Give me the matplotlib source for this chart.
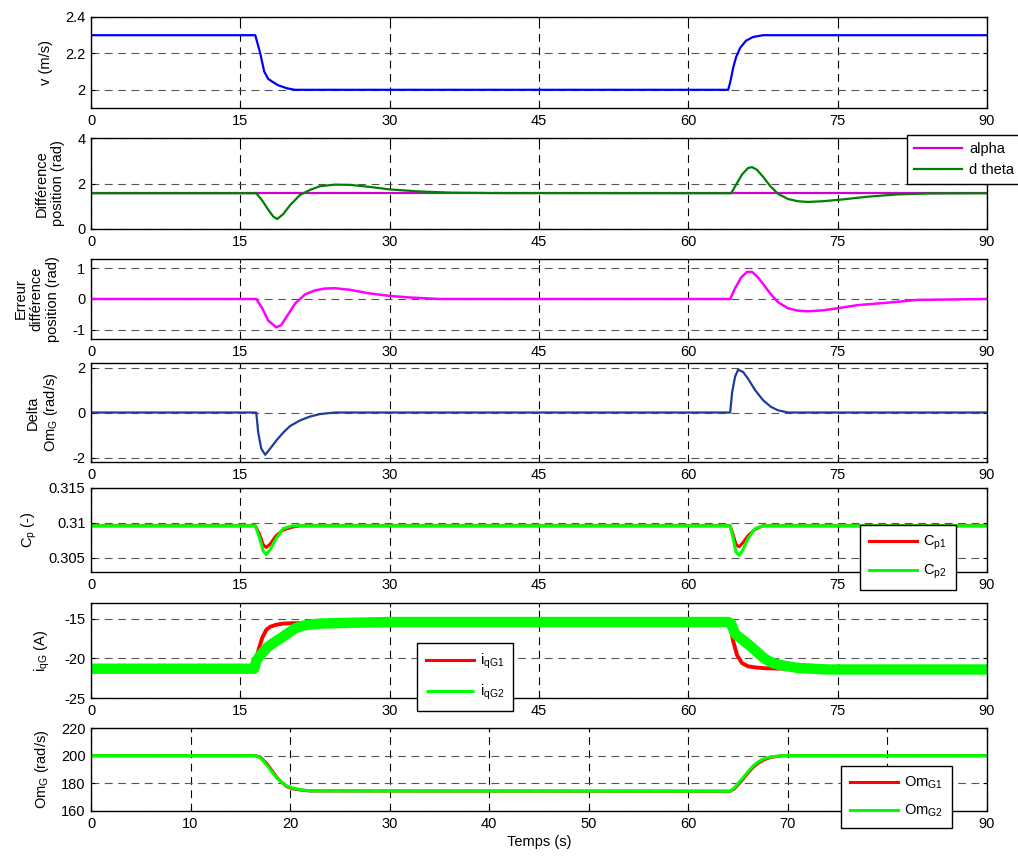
import numpy as np
import matplotlib
matplotlib.use("Agg")
import matplotlib.pyplot as plt

plt.rcParams['font.family'] = ['Liberation Sans', 'DejaVu Sans']
plt.rcParams['font.size'] = 10.5
plt.rcParams['mathtext.default'] = 'regular'
plt.rcParams['axes.unicode_minus'] = False

# vitesse du vent
t_v = [0, 16.5, 16.8, 17.0, 17.4, 17.8, 18.2, 18.8, 19.7, 20.5, 64.0, 64.2, 64.5, 64.8, 65.2, 65.8, 66.5, 67.5, 90]
v = [2.3, 2.3, 2.24, 2.2, 2.1, 2.06, 2.045, 2.025, 2.008, 2.0, 2.0, 2.04, 2.12, 2.18, 2.23, 2.27, 2.29, 2.3, 2.3]

# difference de position
t_alpha = [0, 90]
alpha = [1.571, 1.571]
t_dth = [0, 16.6, 17.2, 17.8, 18.3, 18.7, 19.3, 20.0, 21.0, 22.0, 23.0, 24.5, 26.0, 28.0, 30.0, 33.0, 36.0, 40.0,
         64.3, 64.8, 65.4, 66.0, 66.4, 66.9, 67.5, 68.2, 69.0, 70.0, 71.0, 72.0, 73.5, 75.5, 78.0, 81.0, 84.0, 90]
dtheta = [1.571, 1.571, 1.25, 0.85, 0.55, 0.44, 0.65, 1.05, 1.5, 1.72, 1.88, 1.95, 1.94, 1.85, 1.74, 1.65, 1.6, 1.58,
          1.571, 1.95, 2.4, 2.68, 2.72, 2.6, 2.3, 1.9, 1.55, 1.32, 1.22, 1.19, 1.22, 1.3, 1.42, 1.52, 1.56, 1.571]

# erreur
t_err = [0, 16.6, 17.2, 17.8, 18.6, 19.1, 19.7, 20.5, 21.5, 22.5, 23.5, 24.5, 26, 28, 30, 32, 35,
         64.2, 64.7, 65.3, 65.9, 66.4, 67.0, 67.6, 68.3, 69.0, 70.0, 71.0, 72.0, 73.5, 75, 77, 80, 83, 90]
err = [0, 0, -0.3, -0.7, -0.92, -0.85, -0.55, -0.15, 0.15, 0.28, 0.34, 0.35, 0.3, 0.18, 0.1, 0.05, 0.0,
       0, 0.35, 0.7, 0.88, 0.88, 0.7, 0.45, 0.15, -0.1, -0.3, -0.38, -0.4, -0.37, -0.3, -0.2, -0.12, -0.03, 0]

# delta OmG
t_dom = [0, 16.6, 16.8, 17.1, 17.5, 18.0, 18.7, 19.4, 20.0, 21.0, 22.0, 23.0, 24.5,
         64.2, 64.4, 64.7, 65.0, 65.5, 66.0, 66.7, 67.5, 68.3, 69.0, 70.0, 90]
dom = [0, 0, -0.9, -1.6, -1.88, -1.6, -1.2, -0.85, -0.6, -0.35, -0.18, -0.07, 0,
       0, 0.9, 1.6, 1.9, 1.8, 1.5, 1.0, 0.55, 0.25, 0.1, 0.0, 0]

# Cp
t_cp = [0, 16.5, 16.9, 17.3, 17.6, 18.0, 18.6, 19.3, 20.2, 21.0, 64.2, 64.5, 64.8, 65.1, 65.5, 66.0, 66.7, 67.5, 90]
cp1 = [0.3096, 0.3096, 0.3085, 0.3069, 0.3065, 0.3070, 0.3082, 0.3090, 0.3094, 0.3096,
       0.3096, 0.3083, 0.3069, 0.3066, 0.3072, 0.3082, 0.3091, 0.3096, 0.3096]
cp2 = [0.3096, 0.3096, 0.3080, 0.3060, 0.3055, 0.3062, 0.3078, 0.3092, 0.3096, 0.3096,
       0.3096, 0.3078, 0.3058, 0.3054, 0.3062, 0.3078, 0.3092, 0.3096, 0.3096]

# courants iqG
t_iq1 = [0, 16.4, 16.6, 16.9, 17.2, 17.6, 18.0, 18.6, 19.3, 20.2, 64.0, 64.2, 64.5, 64.9, 65.4, 66.0, 66.8, 67.8, 70, 90]
iq1 = [-21.3, -21.3, -20.0, -18.6, -17.4, -16.4, -16.0, -15.75, -15.6, -15.55,
       -15.5, -15.8, -17.8, -19.6, -20.6, -21.0, -21.15, -21.25, -21.3, -21.3]
t_iq2 = [0, 16.4, 16.6, 17.0, 17.7, 18.5, 19.7, 20.5, 21.5, 23, 26, 30,
         64.0, 64.3, 64.7, 65.3, 66.2, 67.0, 67.6, 68.5, 69.5, 71, 74, 90]
iq2 = [-21.3, -21.3, -20.3, -19.6, -18.6, -17.9, -16.9, -16.2, -15.8, -15.6, -15.5, -15.4,
       -15.4, -15.6, -16.9, -17.5, -18.4, -19.3, -20.0, -20.6, -20.9, -21.2, -21.4, -21.4]

# vitesse generatrice
t_om = [0, 16.5, 17.0, 17.7, 18.2, 18.7, 19.2, 19.7, 20.3, 21.0, 22.0,
        64.2, 64.6, 65.0, 65.5, 66.0, 66.5, 67.0, 67.6, 68.3, 69.5, 90]
om1 = [200, 200, 199, 194, 189, 184, 180.5, 177.5, 176, 175.2, 174.5,
       174.3, 175.8, 179, 183, 187.5, 191.5, 194.5, 197, 198.8, 200, 200]
om2 = [200, 200, 198.5, 193, 188, 183.6, 180.5, 178, 176.5, 175.5, 174.5,
       174.3, 176.5, 180, 184, 188.5, 192.5, 195.5, 197.8, 199.2, 200, 200]

W, H = 1018, 856
fig = plt.figure(figsize=(W / 100, H / 100), dpi=100)

# (top, bottom) en pixels
boxes = [(17, 108), (138, 229), (259, 339), (363, 462), (488, 572), (603, 698), (728, 811)]
axs = []
for top, bot in boxes:
    ax = fig.add_axes([91 / W, 1 - bot / H, (987 - 91) / W, (bot - top) / H])
    axs.append(ax)

for i, ax in enumerate(axs):
    ax.set_xlim(0, 90)
    if i < 6:
        ax.set_xticks(np.arange(0, 91, 15))
    else:
        ax.set_xticks(np.arange(0, 91, 10))
    ax.xaxis.grid(True, color='k', ls=(0, (7, 5)), lw=0.8)
    ax.yaxis.grid(True, color='#555555', ls=(0, (7, 5)), lw=0.8)
    ax.set_axisbelow(True)
    ax.tick_params(direction='in', length=3, top=True, right=True, labelsize=10.5, pad=4)
    for s in ax.spines.values():
        s.set_linewidth(1.0)

def leg(ax, x, y, **kw):
    l = ax.legend(loc='upper left', bbox_to_anchor=(x / W, 1 - y / H), bbox_transform=fig.transFigure,
                  borderaxespad=0, fancybox=False, framealpha=1, edgecolor='k', fontsize=10.5,
                  handlelength=3.3, handletextpad=0.45, **kw)
    l.get_frame().set_linewidth(1.0)
    l.set_zorder(10)
    return l

ax = axs[0]
ax.plot(t_v, v, color='#0000ff', lw=1.6)
ax.set_ylim(1.9, 2.4)
ax.set_yticks([2, 2.2, 2.4])
ax.set_yticklabels(['2', '2.2', '2.4'])
ax.set_ylabel('v (m/s)', labelpad=9)

ax = axs[1]
ax.plot(t_alpha, alpha, color='#d000d0', lw=1.6, label='alpha')
ax.plot(t_dth, dtheta, color='#008000', lw=1.6, label='d theta')
ax.set_ylim(0, 4)
ax.set_yticks([0, 2, 4])
ax.set_ylabel('Différence\nposition (rad)', labelpad=9)
leg(ax, 907, 135, labelspacing=0.45, borderpad=0.5)

ax = axs[2]
ax.plot(t_err, err, color='#ff00ff', lw=1.8)
ax.set_ylim(-1.3, 1.3)
ax.set_yticks([-1, 0, 1])
ax.set_ylabel('Erreur\ndifférence\nposition (rad)', labelpad=9)

ax = axs[3]
ax.plot(t_dom, dom, color='#1f3c9a', lw=1.6)
ax.set_ylim(-2.2, 2.2)
ax.set_yticks([-2, 0, 2])
ax.set_ylabel('Delta\nOm$_{G}$ (rad/s)', labelpad=9)

ax = axs[4]
ax.plot(t_cp, cp1, color='#ff0000', lw=2.2, label='C$_{p1}$')
ax.plot(t_cp, cp2, color='#00ff00', lw=2.2, label='C$_{p2}$')
ax.set_ylim(0.303, 0.315)
ax.set_yticks([0.305, 0.31, 0.315])
ax.set_yticklabels(['0.305', '0.31', '0.315'])
ax.set_ylabel('C$_{p}$ (-)', labelpad=7)
leg(ax, 860, 525, labelspacing=0.75, borderpad=0.6)

ax = axs[5]
ax.plot(t_iq1, iq1, color='#ff0000', lw=2.8, label='i$_{qG1}$')
ax.plot(t_iq2, iq2, color='#00ff00', lw=7.5, solid_capstyle='butt', label='i$_{qG2}$')
ax.set_ylim(-25, -13)
ax.set_yticks([-25, -20, -15])
ax.set_ylabel('i$_{qG}$ (A)', labelpad=9)
l = leg(ax, 417, 643, labelspacing=0.8, borderpad=0.6)
for h in l.get_lines():
    h.set_linewidth(2.2)

ax = axs[6]
ax.plot(t_om, om1, color='#ff0000', lw=2.2, label='Om$_{G1}$')
ax.plot(t_om, om2, color='#00ff00', lw=2.2, label='Om$_{G2}$')
ax.set_ylim(160, 220)
ax.set_yticks([160, 180, 200, 220])
ax.set_ylabel('Om$_{G}$ (rad/s)', labelpad=7)
ax.set_xlabel('Temps (s)', labelpad=3)
leg(ax, 841, 766, labelspacing=0.8, borderpad=0.6)

fig.savefig('out.png', dpi=100)
